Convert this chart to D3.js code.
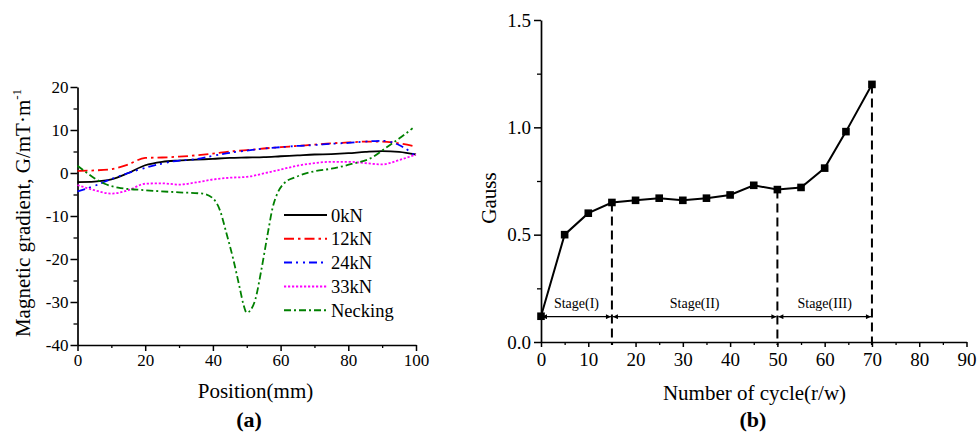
<!DOCTYPE html>
<html>
<head>
<meta charset="utf-8">
<script src="https://cdn.jsdelivr.net/npm/d3@7"></script>
<style>
  html, body { margin: 0; padding: 0; background: #fff; }
  svg { display: block; }
  text { font-family: "Liberation Serif", "Times New Roman", serif; fill: #000; }
</style>
</head>
<body>
<svg id="fig" width="977" height="436"></svg>
<script>
// ---- Panel (a): magnetic gradient along the specimen ----
const position = [0, 5, 10, 15, 20, 25, 30, 35, 40, 45, 50, 55, 60, 65, 70, 75, 80, 85, 90, 95, 100];
const grad0kN  = [-2.1, -2.0, -1.5, 0.0, 1.8, 2.6, 2.9, 3.1, 3.3, 3.5, 3.6, 3.7, 3.9, 4.1, 4.3, 4.4, 4.6, 4.9, 5.1, 4.9, 4.3];
const grad12kN = [0.5, 0.6, 0.9, 2.0, 3.5, 3.6, 3.8, 4.1, 4.5, 5.0, 5.3, 5.7, 6.0, 6.3, 6.6, 6.9, 7.1, 7.3, 7.3, 6.9, 6.1];
const grad24kN = [-4.3, -3.0, -1.4, 0.0, 1.2, 2.2, 2.9, 3.2, 4.0, 4.7, 5.2, 5.7, 6.0, 6.3, 6.5, 6.8, 7.0, 7.3, 7.5, 6.5, 3.9];
const grad33kN = [-2.8, -4.0, -4.8, -4.0, -2.5, -2.4, -2.7, -2.2, -1.5, -1.1, -0.9, -0.1, 0.8, 1.7, 2.3, 2.6, 2.6, 2.3, 2.0, 3.0, 4.3];
const neckPosition = [0, 3, 5, 8, 12, 20, 30, 37, 40, 42, 44, 46, 48, 49, 50, 51, 52.5, 54.3, 56.2, 57.7, 59.2, 61, 64.6, 70, 75, 81, 87, 91, 95, 99];
const gradNecking  = [1.7, -0.1, -1.2, -2.5, -3.4, -4.0, -4.5, -4.8, -5.9, -8.5, -14, -20, -27, -30.5, -32.5, -32, -29.5, -22.6, -14.1, -7.9, -4.5, -2.4, -0.9, 0.4, 1.0, 2.1, 3.6, 5.8, 8.0, 10.4];
const seriesNames = ["0kN", "12kN", "24kN", "33kN", "Necking"];
const gradTicks = [-40, -30, -20, -10, 0, 10, 20];
const posTicks = [0, 20, 40, 60, 80, 100];

// ---- Panel (b): Gauss reading versus number of cycles ----
const cycles = [0, 5, 10, 15, 20, 25, 30, 35, 40, 45, 50, 55, 60, 64.5, 70];
const gauss  = [0.12, 0.50, 0.60, 0.65, 0.66, 0.67, 0.66, 0.67, 0.685, 0.73, 0.71, 0.72, 0.81, 0.98, 1.20];
const stageBounds = [0, 15, 50, 70];
const stageNames = ["Stage(I)", "Stage(II)", "Stage(III)"];
const stageArrowLevel = 0.118;
const gaussTicks = [0, 0.5, 1.0, 1.5];
const cycleTicks = [0, 10, 20, 30, 40, 50, 60, 70, 80, 90];

const svg = d3.select("#fig");
svg.append("rect").attr("width", 977).attr("height", 436).attr("fill", "#fff");

function styleAxis(g, size) {
  g.attr("font-family", "Liberation Serif, Times New Roman, serif")
   .attr("font-size", size);
  g.select(".domain").attr("stroke", "#000").attr("stroke-width", 1.7);
  g.selectAll(".tick line").attr("stroke", "#000").attr("stroke-width", 1.5);
  g.selectAll(".tick text").attr("fill", "#000");
}
function minorAxis(g) {
  g.select(".domain").remove();
  g.selectAll(".tick line").attr("stroke", "#000").attr("stroke-width", 1.3);
}

// ===== Panel (a) =====
const xa = d3.scaleLinear().domain([0, 100]).range([77.5, 416]);
const ya = d3.scaleLinear().domain([-40, 20]).range([345, 87]);

svg.append("g").attr("transform", `translate(0,${ya(-40)})`)
  .call(d3.axisBottom(xa).tickValues(d3.range(10, 100, 20)).tickSize(3).tickFormat(""))
  .call(minorAxis);
svg.append("g").attr("transform", `translate(${xa(0)},0)`)
  .call(d3.axisLeft(ya).tickValues(d3.range(-35, 20, 10)).tickSize(4).tickFormat(""))
  .call(minorAxis);
svg.append("g").attr("transform", `translate(0,${ya(-40)})`)
  .call(d3.axisBottom(xa).tickValues(posTicks).tickSize(6).tickSizeOuter(0).tickPadding(3).tickFormat(d => String(d)))
  .call(g => styleAxis(g, 17));
svg.append("g").attr("transform", `translate(${xa(0)},0)`)
  .call(d3.axisLeft(ya).tickValues(gradTicks).tickSize(7).tickSizeOuter(0).tickPadding(2).tickFormat(d => String(d)))
  .call(g => styleAxis(g, 17));

const lineA = d3.line().x(d => xa(d[0])).y(d => ya(d[1])).curve(d3.curveMonotoneX);
const seriesA = [
  { name: seriesNames[0], xs: position, ys: grad0kN,  color: "#000000", dash: null },
  { name: seriesNames[1], xs: position, ys: grad12kN, color: "#ff0000", dash: "10,4,2.5,4" },
  { name: seriesNames[2], xs: position, ys: grad24kN, color: "#0000ff", dash: "8,4,2,5,2,4" },
  { name: seriesNames[3], xs: position, ys: grad33kN, color: "#ff00ff", dash: "2.2,1.8" },
  { name: seriesNames[4], xs: neckPosition, ys: gradNecking, color: "#008000", dash: "7,3,2,3" }
];
const plotA = svg.append("g");
seriesA.forEach(s => {
  plotA.append("path")
    .datum(s.xs.map((x, i) => [x, s.ys[i]]))
    .attr("d", lineA)
    .attr("fill", "none")
    .attr("stroke", s.color)
    .attr("stroke-width", 1.8)
    .attr("stroke-dasharray", s.dash);
});

// legend
const legend = svg.append("g").attr("transform", "translate(284,215)");
seriesA.forEach((s, i) => {
  const row = legend.append("g").attr("transform", `translate(0,${i * 23.8})`);
  row.append("line").attr("x1", 0).attr("x2", 43).attr("y1", 0).attr("y2", 0)
    .attr("stroke", s.color).attr("stroke-width", 2).attr("stroke-dasharray", s.dash);
  row.append("text").attr("x", 47).attr("y", 6.5).attr("font-size", 18.5).text(s.name);
});

// axis titles (a)
svg.append("text").attr("transform", "translate(30,213) rotate(-90)")
  .attr("text-anchor", "middle").attr("font-size", 21)
  .call(t => {
    t.append("tspan").text("Magnetic gradient, G/mT\u00b7m");
    t.append("tspan").attr("dy", -9).attr("font-size", 13).text("-1");
  });
svg.append("text").attr("x", 255.5).attr("y", 398).attr("text-anchor", "middle")
  .attr("font-size", 21).text("Position(mm)");
svg.append("text").attr("x", 249).attr("y", 427).attr("text-anchor", "middle")
  .attr("font-size", 22).attr("font-weight", "bold").text("(a)");

// ===== Panel (b) =====
const xb = d3.scaleLinear().domain([0, 90]).range([541, 966.5]);
const yb = d3.scaleLinear().domain([0, 1.5]).range([342, 20]);

svg.append("g").attr("transform", `translate(0,${yb(0)})`)
  .call(d3.axisBottom(xb).tickValues(d3.range(5, 90, 10)).tickSize(3).tickFormat(""))
  .call(minorAxis);
svg.append("g").attr("transform", `translate(${xb(0)},0)`)
  .call(d3.axisLeft(yb).tickValues([0.25, 0.75, 1.25]).tickSize(4).tickFormat(""))
  .call(minorAxis);
svg.append("g").attr("transform", `translate(0,${yb(0)})`)
  .call(d3.axisBottom(xb).tickValues(cycleTicks).tickSize(5).tickSizeOuter(0).tickPadding(6).tickFormat(d => String(d)))
  .call(g => styleAxis(g, 19));
svg.append("g").attr("transform", `translate(${xb(0)},0)`)
  .call(d3.axisLeft(yb).tickValues(gaussTicks).tickSize(7).tickSizeOuter(0).tickPadding(3).tickFormat(d3.format(".1f")))
  .call(g => styleAxis(g, 19));

// dashed stage boundaries, from the curve down to the axis
const plotB = svg.append("g");
stageBounds.slice(1).forEach(c => {
  const v = gauss[cycles.indexOf(c)];
  plotB.append("line")
    .attr("x1", xb(c)).attr("x2", xb(c))
    .attr("y1", yb(v)).attr("y2", yb(0) + 3)
    .attr("stroke", "#000").attr("stroke-width", 2).attr("stroke-dasharray", "9,5");
});

// stage arrows
const defs = svg.append("defs");
defs.append("marker").attr("id", "ahEnd").attr("viewBox", "0 0 10 10")
  .attr("refX", 10).attr("refY", 5).attr("markerWidth", 7).attr("markerHeight", 5)
  .attr("markerUnits", "userSpaceOnUse").attr("orient", "auto")
  .append("path").attr("d", "M0,0L10,5L0,10Z").attr("fill", "#000");
defs.append("marker").attr("id", "ahStart").attr("viewBox", "0 0 10 10")
  .attr("refX", 0).attr("refY", 5).attr("markerWidth", 7).attr("markerHeight", 5)
  .attr("markerUnits", "userSpaceOnUse").attr("orient", "auto")
  .append("path").attr("d", "M10,0L0,5L10,10Z").attr("fill", "#000");

stageNames.forEach((name, i) => {
  const a = stageBounds[i], b = stageBounds[i + 1];
  plotB.append("line")
    .attr("x1", xb(a) + 1).attr("x2", xb(b) - 1)
    .attr("y1", yb(stageArrowLevel)).attr("y2", yb(stageArrowLevel))
    .attr("stroke", "#000").attr("stroke-width", 1.2)
    .attr("marker-start", "url(#ahStart)").attr("marker-end", "url(#ahEnd)");
  plotB.append("text")
    .attr("x", xb((a + b) / 2)).attr("y", 307.5)
    .attr("text-anchor", "middle").attr("font-size", 14).text(name);
});

// Gauss curve with square markers
const lineB = d3.line().x(d => xb(d[0])).y(d => yb(d[1]));
const ptsB = cycles.map((c, i) => [c, gauss[i]]);
plotB.append("path").datum(ptsB).attr("d", lineB)
  .attr("fill", "none").attr("stroke", "#000").attr("stroke-width", 2);
plotB.selectAll("rect.pt").data(ptsB).join("rect").attr("class", "pt")
  .attr("x", d => xb(d[0]) - 3.8).attr("y", d => yb(d[1]) - 3.8)
  .attr("width", 7.6).attr("height", 7.6).attr("fill", "#000");

// axis titles (b)
svg.append("text").attr("transform", "translate(496,198) rotate(-90)")
  .attr("text-anchor", "middle").attr("font-size", 21).text("Gauss");
svg.append("text").attr("x", 754.5).attr("y", 400).attr("text-anchor", "middle")
  .attr("font-size", 21).text("Number of cycle(r/w)");
svg.append("text").attr("x", 753).attr("y", 427).attr("text-anchor", "middle")
  .attr("font-size", 22).attr("font-weight", "bold").text("(b)");
</script>
</body>
</html>
